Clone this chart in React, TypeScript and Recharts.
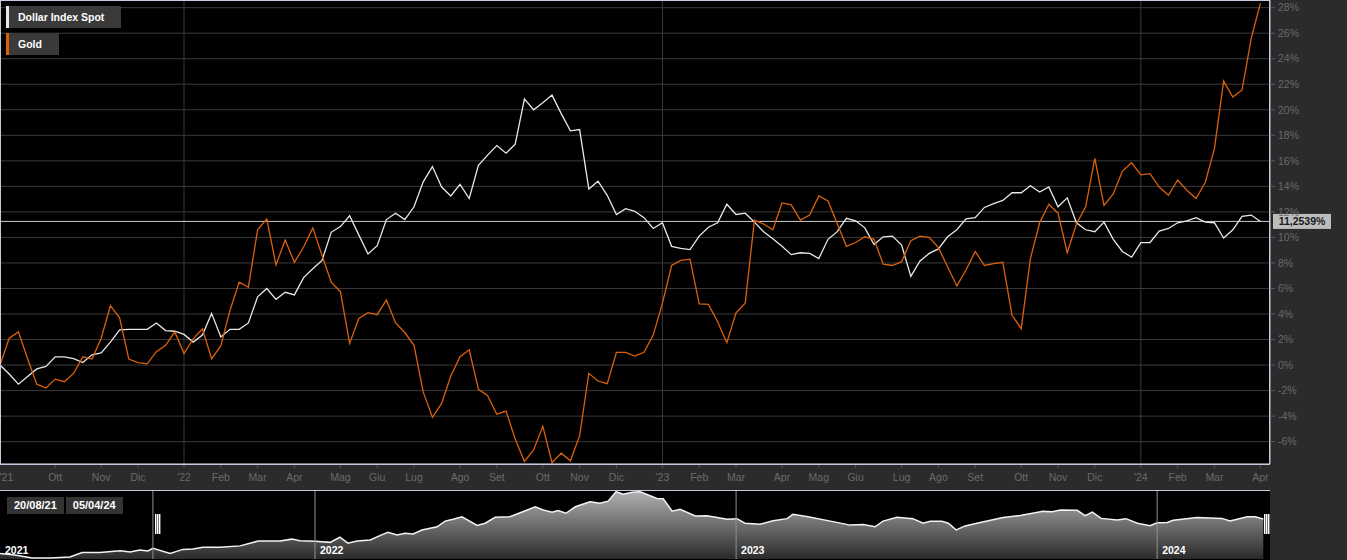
import React from 'react';
import { LineChart, Line, AreaChart, Area, XAxis, YAxis, CartesianGrid, ReferenceLine, Legend } from 'recharts';

// variazione % settimanale dal 20/08/21 (venerdì)
const dollarIndex = [
  0, -0.7, -1.5, -0.9, -0.3, -0.1, 0.65, 0.65, 0.5, 0.2,
  0.8, 0.95, 1.8, 2.75, 2.8, 2.8, 2.8, 3.3, 2.7, 2.65,
  2.4, 1.8, 2.35, 4.05, 2.2, 2.8, 2.8, 3.3, 5.35, 6.0,
  5.15, 5.7, 5.5, 6.85, 7.55, 8.2, 10.4, 10.85, 11.7, 10.2,
  8.7, 9.35, 11.4, 11.9, 11.4, 12.4, 14.35, 15.55, 13.95, 13.25,
  14.15, 13.05, 15.65, 16.45, 17.2, 16.6, 17.3, 20.85, 20.0, 20.55,
  21.15, 19.7, 18.35, 18.45, 13.8, 14.4, 13.3, 11.8, 12.25, 12.05,
  11.55, 10.7, 11.15, 9.3, 9.15, 9.05, 10.1, 10.8, 11.15, 12.6,
  11.8, 11.9, 11.2, 10.45, 9.9, 9.3, 8.65, 8.8, 8.75, 8.35,
  9.85, 10.45, 11.5, 11.3, 10.75, 9.45, 10.05, 10.1, 9.4, 6.95,
  8.15, 8.75, 9.1, 10.05, 10.6, 11.45, 11.55, 12.35, 12.65, 12.9,
  13.5, 13.5, 14.05, 13.55, 13.95, 12.4, 13.1, 11.15, 10.6, 10.45,
  11.2, 9.85, 8.9, 8.45, 9.6, 9.6, 10.5, 10.7, 11.15, 11.3,
  11.55, 11.2, 11.15, 9.95, 10.6, 11.65, 11.75, 11.2539,
];

const gold = [
  0, 2.1, 2.6, 0.5, -1.5, -1.8, -1.1, -1.3, -0.65, 0.65,
  0.47, 2.1, 4.65, 3.7, 0.47, 0.2, 0.1, 1.05, 1.55, 2.6,
  0.9, 2.05, 2.85, 0.5, 1.5, 4.3, 6.5, 6.1, 10.6, 11.45,
  7.85, 9.8, 8.05, 9.25, 10.75, 8.6, 6.5, 5.75, 1.7, 3.65,
  4.1, 3.95, 5.1, 3.3, 2.55, 1.55, -2.1, -4.1, -3.0, -0.85,
  0.65, 1.2, -1.9, -2.4, -3.85, -3.6, -5.8, -7.55, -6.65, -4.8,
  -7.65, -6.9, -7.5, -5.55, -0.65, -1.25, -1.45, 1.0, 1.0, 0.7,
  1.0, 2.35, 4.85, 7.8, 8.2, 8.3, 4.8, 4.75, 3.4, 1.75,
  4.1, 4.85, 11.35, 11.05, 10.6, 12.7, 12.55, 11.35, 11.75, 13.25,
  12.85, 11.1, 9.3, 9.6, 10.05, 9.85, 7.9, 7.8, 8.1, 9.75,
  10.1, 10.0, 9.2, 7.7, 6.2, 7.45, 8.9, 7.8, 7.95, 8.05,
  3.9, 2.85, 8.35, 11.15, 12.6, 11.9, 8.8, 11.05, 12.4, 16.2,
  12.5, 13.4, 15.2, 15.85, 14.9, 15.0, 13.95, 13.3, 14.5, 13.7,
  13.05, 14.3, 16.95, 22.25, 21.0, 21.55, 25.6, 28.35,
];

// primo venerdì di ogni mese (indice settimana)
const monthTicks = [0.7, 6, 11, 15, 20, 24, 28, 32, 37, 41, 45, 50, 54, 59, 63, 67, 72, 76, 80, 85, 89, 93, 98, 102, 106, 111, 115, 119, 124, 128, 132, 137];
const monthLabels = ["'21", 'Ott', 'Nov', 'Dic', "'22", 'Feb', 'Mar', 'Apr', 'Mag', 'Giu', 'Lug', 'Ago', 'Set', 'Ott', 'Nov', 'Dic', "'23", 'Feb', 'Mar', 'Apr', 'Mag', 'Giu', 'Lug', 'Ago', 'Set', 'Ott', 'Nov', 'Dic', "'24", 'Feb', 'Mar', 'Apr'];
const yearWeeks = [20, 72, 124];
const pctTicks = [-6, -4, -2, 0, 2, 4, 6, 8, 10, 12, 14, 16, 18, 20, 22, 24, 26, 28];

// navigatore: livello DXY
const navTime = [
  2021.252, 2021.287, 2021.311, 2021.328, 2021.371, 2021.418, 2021.447, 2021.489, 2021.537, 2021.561,
  2021.584, 2021.603, 2021.615, 2021.656, 2021.686, 2021.710, 2021.734, 2021.774, 2021.822, 2021.865,
  2021.917, 2021.945, 2021.964, 2022.0, 2022.036, 2022.059, 2022.078, 2022.1, 2022.131, 2022.154,
  2022.173, 2022.195, 2022.214, 2022.233, 2022.254, 2022.29, 2022.309, 2022.328, 2022.349, 2022.385,
  2022.404, 2022.428, 2022.463, 2022.504, 2022.523, 2022.542, 2022.563, 2022.577, 2022.596, 2022.618,
  2022.653, 2022.677, 2022.696, 2022.715, 2022.732, 2022.753, 2022.772, 2022.812, 2022.827, 2022.848,
  2022.867, 2022.903, 2022.931, 2022.979, 2023.002, 2023.021, 2023.057, 2023.088, 2023.121, 2023.135,
  2023.171, 2023.230, 2023.271, 2023.302, 2023.330, 2023.349, 2023.382, 2023.420, 2023.444, 2023.461,
  2023.489, 2023.504, 2023.523, 2023.544, 2023.572, 2023.634, 2023.675, 2023.729, 2023.751, 2023.770,
  2023.810, 2023.829, 2023.846, 2023.867, 2023.905, 2023.926, 2023.953, 2023.983, 2024.0, 2024.024,
  2024.038, 2024.095, 2024.154, 2024.173, 2024.214, 2024.233, 2024.252,
];
const navDxy = [
  91.2, 90.6, 90.0, 89.5, 89.5, 89.9, 91.5, 91.5, 92.2, 91.7,
  92.5, 92.1, 93.1, 91.2, 92.7, 92.8, 93.5, 93.5, 94.0, 95.8,
  95.8, 96.5, 95.9, 95.7, 95.3, 97.2, 95.0, 95.8, 96.2, 97.8,
  99.0, 98.0, 98.7, 98.4, 99.9, 101.1, 103.2, 103.9, 104.8, 101.6,
  102.4, 104.6, 104.8, 107.3, 108.5, 107.3, 106.5, 107.1, 106.1, 108.5,
  110.4, 109.8, 110.6, 114.1, 113.2, 113.9, 114.1, 111.6, 111.5, 106.9,
  107.6, 105.1, 105.2, 103.9, 104.1, 102.4, 102.0, 103.3, 104.1, 105.7,
  104.8, 103.0, 101.7, 101.9, 101.1, 103.2, 104.6, 104.1, 102.4, 103.1,
  103.1, 102.4, 99.9, 101.4, 102.4, 104.5, 105.3, 106.8, 106.7, 107.3,
  107.2, 105.2, 106.5, 104.2, 103.6, 104.1, 102.4, 101.5, 102.6, 102.7,
  103.5, 104.5, 104.2, 103.2, 104.8, 104.8, 104.0,
];
const navYears = [2022, 2023, 2024];
const navDomain = [2021.2518, 2024.268];
const selection = [2021.615, 2024.2526];

const FONT = '"Liberation Sans", Arial, sans-serif';
const FRAME = '#c6c9dc';

const MonthTick = (props: any) => {
  const { x, y, payload } = props;
  const lbl = monthLabels[monthTicks.indexOf(payload.value)];
  return (
    <g>
      {lbl !== "'21" && <line x1={x} x2={x} y1={y - 6} y2={y - 2} stroke="#555" />}
      <text x={x} y={y + 11} textAnchor="middle" fontSize={10.5} fill="#6a6a6a">{lbl}</text>
    </g>
  );
};

const LastLabel = (props: any) => {
  const { viewBox } = props;
  const x = viewBox.x + viewBox.width + 3;
  const y = viewBox.y;
  const last = dollarIndex[dollarIndex.length - 1];
  return (
    <g>
      <rect x={x} y={y - 7.5} width={58} height={15} fill="#bdbdbd" />
      <text x={x + 29} y={y + 4} textAnchor="middle" fontSize={10.5} fontWeight={700} fill="#1a1a1a">
        {last.toFixed(4).replace('.', ',')}%
      </text>
    </g>
  );
};

const LegendBoxes = (props: any) => (
  <div>
    {props.payload.map((p: any) => (
      <div key={p.value} style={{ display: 'flex', height: 22, marginBottom: 5, width: 'fit-content', background: '#3a3a3a' }}>
        <div style={{ width: 3, background: p.color }} />
        <div style={{ padding: '0 17px 0 9px', lineHeight: '22px', color: '#fff', fontWeight: 700, fontSize: 10.5 }}>{p.value}</div>
      </div>
    ))}
  </div>
);

// maniglie della selezione nel navigatore
const Handle = (bars: number, withLine: boolean) => (props: any) => {
  const { x1, y1, y2 } = props;
  const yTop = Math.min(y1, y2);
  const h = Math.abs(y2 - y1);
  const top = Math.round(yTop + h * 0.34);
  const left = Math.round(x1) + (withLine ? 2 : 0);
  return (
    <g>
      {withLine && <line x1={x1} x2={x1} y1={y1} y2={y2} stroke="#8f8f8f" />}
      <rect x={left} y={top} width={bars * 2 - 1} height={20} fill="#222" />
      {Array.from({ length: bars }).map((_, k) => (
        <rect key={k} x={left + k * 2} y={top} width={1.4} height={20} fill="#fff" />
      ))}
    </g>
  );
};

const App = () => {
  const data = dollarIndex.map((v, i) => ({ i, dollar: v, gold: gold[i] }));
  const navData = navTime.map((t, k) => ({ t, v: navDxy[k] }));

  return (
    <div style={{ position: 'absolute', left: 0, top: 0, width: 1347, height: 560, background: '#2b2b2b', fontFamily: FONT, overflow: 'hidden' }}>
      <LineChart width={1347} height={490} data={data} margin={{ top: 0, right: 0, bottom: 0, left: 0 }}>
        <CartesianGrid fill="#000" stroke="#3a3a3a" vertical={false} />
        {yearWeeks.map((w) => (
          <ReferenceLine key={w} x={w} stroke="#3a3a3a" />
        ))}
        <XAxis
          dataKey="i"
          type="number"
          domain={[0, 138.04]}
          ticks={monthTicks}
          interval={0}
          height={26}
          tickSize={4}
          tickMargin={2}
          tickLine={false}
          axisLine={{ stroke: FRAME }}
          tick={<MonthTick />}
          allowDataOverflow
        />
        <YAxis
          orientation="right"
          width={77}
          domain={[-7.75, 28.6]}
          ticks={pctTicks}
          interval={0}
          tickSize={5}
          tickMargin={3}
          tickLine={{ stroke: '#5a5a5a' }}
          axisLine={{ stroke: FRAME }}
          tick={{ fill: '#6a6a6a', fontSize: 10.5 }}
          tickFormatter={(v) => `${v}%`}
          allowDataOverflow
        />
        <ReferenceLine y={dollarIndex[dollarIndex.length - 1]} stroke="#c8c8c8" label={(p: any) => <LastLabel {...p} />} />
        <Legend
          layout="horizontal"
          verticalAlign="middle"
          align="center"
          content={<LegendBoxes />}
          wrapperStyle={{ left: 6, top: 6, width: 'auto' }}
        />
        <Line dataKey="dollar" name="Dollar Index Spot" type="linear" stroke="#e8e8e8" strokeWidth={1.3} dot={false} activeDot={false} isAnimationActive={false} />
        <Line dataKey="gold" name="Gold" type="linear" stroke="#dc600c" strokeWidth={1.3} dot={false} activeDot={false} isAnimationActive={false} />
      </LineChart>
      <div style={{ position: 'absolute', left: 0, top: 0, width: 1270, height: 465, boxSizing: 'border-box', border: `1px solid ${FRAME}`, pointerEvents: 'none' }} />

      <div style={{ position: 'absolute', left: 0, top: 490, width: 1270, height: 70, background: '#000', borderTop: `1px solid ${FRAME}` }}>
        <AreaChart width={1270} height={68} data={navData} margin={{ top: 0, right: 0, bottom: 0, left: 0 }}>
          <defs>
            <linearGradient id="navFill" x1="0" y1="0" x2="0" y2="1">
              <stop offset="0" stopColor="#b0b0b0" />
              <stop offset="1" stopColor="#2a2a2a" />
            </linearGradient>
          </defs>
          <XAxis dataKey="t" type="number" domain={navDomain} hide allowDataOverflow />
          <YAxis domain={[89.13, 114.36]} hide allowDataOverflow />
          <Area dataKey="v" type="linear" stroke="#f2f2f2" strokeWidth={1.5} fill="url(#navFill)" fillOpacity={1} dot={false} activeDot={false} isAnimationActive={false} />
          <ReferenceLine
            x={navDomain[0]}
            stroke="none"
            label={{ value: '2021', position: 'insideBottomLeft', offset: 5, fill: '#fff', fontSize: 10.5, fontWeight: 700 }}
          />
          {navYears.map((y) => (
            <ReferenceLine
              key={y}
              x={y}
              stroke="#8f8f8f"
              label={{ value: String(y), position: 'insideBottomLeft', offset: 5, fill: '#fff', fontSize: 10.5, fontWeight: 700 }}
            />
          ))}
          <ReferenceLine x={selection[0]} stroke="#8f8f8f" shape={Handle(3, true)} />
          <ReferenceLine x={selection[1]} stroke="#8f8f8f" shape={Handle(4, false)} />
        </AreaChart>
        <div style={{ position: 'absolute', left: 7, top: 6, display: 'flex', gap: 2 }}>
          {['20/08/21', '05/04/24'].map((d) => (
            <div key={d} style={{ background: '#333', color: '#fff', fontWeight: 700, fontSize: 11, height: 17, lineHeight: '17px', padding: '0 7px' }}>{d}</div>
          ))}
        </div>
      </div>
    </div>
  );
};

export default App;
